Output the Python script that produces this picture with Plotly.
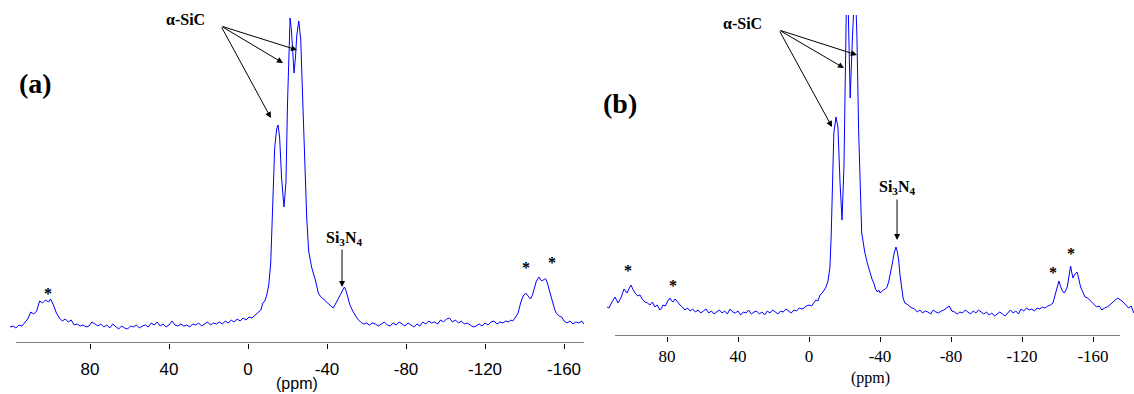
import plotly.graph_objects as go

# ---------------- Panel (a) spectrum ----------------
ppm_a = [120.5, 119, 117.5, 116, 114.5, 113, 111.5, 110, 108.5, 107, 105.5, 104, 102.5, 101, 100,
         98.5, 97, 95.5, 94, 92.5, 91, 89.5, 88, 86.5, 85, 83.5, 82, 80.5, 79, 77.5, 76, 74.5, 73,
         71.5, 70, 68.5, 67, 65.5, 64, 62.5, 61, 59.5, 58, 56.5, 55, 53.5, 52, 50.5, 49, 47.5, 46,
         44.5, 43, 41.5, 40, 38.5, 37, 35.5, 34, 32.5, 31, 29.5, 28, 26.5, 25, 23.5, 22, 20.5, 19,
         17.5, 16, 14.5, 13, 11.5, 10, 8.5, 7, 5.5, 4, 2.5, 1, -0.5, -2, -3.5, -5, -6.5, -7.5, -8.5,
         -9.5, -10.5, -11.5, -12.5, -13.5, -14.5, -15.2, -16, -17, -18.2, -19.2, -20, -20.7, -21.3,
         -22, -22.7, -23.3, -24, -24.7, -25.7, -26.7, -27.7, -28.7, -29.7, -30.7, -31.5, -32.2, -33,
         -34, -35, -35.6, -36.5, -37.5, -38.5, -39.5, -40.5, -41.5, -42.5, -43.2, -44, -45, -46, -47,
         -47.8, -48.8, -49.5, -50.3, -51.6, -53, -54.2, -55.5, -57, -58.5, -60, -61.5, -63, -64.5,
         -66, -67.5, -69, -70.5, -72, -73.5, -75, -76.5, -78, -79.5, -81, -82.5, -84, -85.5, -87,
         -88.5, -90, -91.5, -93, -94.5, -96, -97.5, -99, -100.5, -102, -103.5, -105, -106.5, -108,
         -109.5, -111, -112.5, -114, -115.5, -117, -118.5, -120, -121.5, -123, -124.5, -126, -127.5,
         -129, -130.5, -132, -133, -134, -135.5, -136.7, -138, -139.3, -140.6, -141.8, -143, -144,
         -145, -146, -147.3, -148.2, -149, -150, -150.7, -151.6, -152.5, -153.4, -154.3, -155.2,
         -156, -157.5, -158.8, -160, -161.5, -163, -164.5, -166, -167.5, -169, -170]
int_a = [16, 17, 15, 18, 17, 20, 24, 31, 29, 32, 42, 40, 43, 41, 44,
         38, 30, 25, 22, 24, 21, 23, 18, 19, 17, 18, 16, 17, 21, 19, 17, 19, 16,
         18, 15, 19, 16, 14, 17, 15, 14, 17, 16, 18, 15, 17, 18, 16, 20, 18, 21,
         17, 19, 16, 18, 22, 18, 17, 19, 17, 18, 16, 19, 18, 20, 17, 19, 21, 18,
         20, 19, 21, 19, 22, 20, 23, 21, 24, 22, 25, 23, 26, 25, 28, 30, 33, 40, 42,
         48, 58, 80, 140, 195, 214, 218, 206, 165, 136, 160, 240, 300, 325,
         312, 288, 270, 285, 308, 322, 303, 243, 176, 126, 92, 82, 76, 70,
         64, 55, 50, 47, 45, 43, 41, 40, 38, 36, 35, 38, 41, 44, 48,
         52, 56, 53, 48, 38, 32, 28, 24, 21, 19, 20, 18, 20, 19,
         17, 19, 21, 18, 17, 20, 18, 21, 19, 17, 20, 18, 16, 19, 17,
         21, 19, 22, 20, 21, 19, 23, 21, 24, 25, 21, 23, 20, 22,
         19, 20, 18, 16, 17, 19, 17, 20, 18, 21, 22, 19, 21,
         20, 22, 21, 23, 22, 26, 30, 40, 47, 50, 47, 44, 48,
         56, 62, 66, 63, 62, 64, 64, 60, 53, 46, 40, 34,
         30, 27, 26, 22, 20, 22, 19, 21, 20, 22, 19]

# ---------------- Panel (b) spectrum ----------------
ppm_b = [113.8, 112.7, 111, 109.3, 107.6, 106, 104.2, 103.3, 102.5, 101.5, 100.3, 99, 98, 96.5,
         95.2, 94, 92.4, 91, 89.6, 88.2, 86.8, 85.5, 84, 83, 82.3, 81, 80, 79.2, 78.3, 77.4, 76.6,
         75.5, 74.9, 73.8, 72.7, 71.3, 69.9, 68.5, 67, 65.5, 64, 62.5, 61, 59.5, 58, 56.5, 55, 53.5,
         52, 50.5, 49, 47.5, 46, 44.5, 43, 41.5, 40, 38.5, 37, 35.5, 34, 32.5, 31, 29.5, 28, 26.5,
         25, 23.5, 22, 20.5, 19, 17.5, 16, 14.5, 13, 11.5, 10, 8.5, 7, 5.5, 4, 2.8, 1.5, 0, -1.5,
         -3, -4, -5, -6.2, -7.5, -8.5, -9.6, -10.7, -11.8, -12.5, -13, -14, -15.2, -16.3, -17.5,
         -18.6, -19.7, -20.5, -21.3, -22.2, -23.2, -24.5, -26, -27, -28, -29.7, -31.5, -33, -34.4,
         -35.5, -36.5, -37.5, -38.5, -39.3, -40, -41, -42, -43, -44, -45, -46, -47, -48, -49, -49.8,
         -50.5, -51.2, -52, -53, -54, -55, -56, -57, -58, -59.5, -61, -62.5, -64, -65.5, -67, -68.5,
         -70, -71.5, -73, -74.5, -76, -77.5, -79, -80.5, -82, -83.5, -85, -86.5, -88, -89.5, -91,
         -92.5, -94, -95.5, -97, -98.5, -100, -101.5, -103, -104.5, -106, -107.5, -109, -110.5,
         -112, -113.5, -115, -116.5, -118, -119.5, -121, -122.5, -124, -125.5, -127, -128.5, -130,
         -131.5, -133, -134.5, -136, -137.5, -138.5, -139.3, -140.2, -140.8, -141.7, -142.5, -143.7,
         -144.5, -145.5, -146.4, -147.4, -148, -148.7, -149.8, -151, -152, -153, -154, -155.5, -157,
         -158, -159, -160, -161, -162, -163.5, -165, -166.5, -168, -169.5, -171, -172.5, -174,
         -175.5, -177, -178.5, -180, -181.5, -183]
int_b = [29, 28, 34, 39, 33, 38, 47, 45, 43, 47, 51, 46, 43, 40,
         41, 37, 34, 33, 31, 34, 29, 31, 26, 28, 31, 30, 34, 36, 38, 35, 34,
         37, 36, 33, 31, 29, 26, 28, 25, 27, 24, 26, 23, 25, 27, 23, 25, 22,
         24, 26, 23, 25, 22, 27, 24, 23, 25, 21, 24, 23, 26, 22, 24, 25, 22, 24,
         21, 25, 23, 26, 24, 22, 25, 24, 27, 25, 23, 26, 25, 28, 27, 28, 30, 31, 30,
         34, 36, 35, 41, 43, 46, 49, 55, 69, 100, 136, 203, 219, 209, 153,
         116, 169, 300, 360, 320, 238, 300, 355, 300, 203, 103, 83, 72, 63,
         57, 53, 47, 44, 46, 43, 45, 46, 47, 49, 55, 63, 73, 83, 89, 84,
         76, 62, 49, 38, 33, 32, 31, 29, 28, 27, 24, 26, 23, 25, 24, 22,
         26, 24, 23, 25, 26, 28, 30, 25, 24, 22, 24, 23, 26, 24, 22,
         25, 23, 26, 24, 22, 24, 21, 23, 20, 22, 24, 22, 20,
         23, 26, 23, 25, 22, 27, 25, 28, 26, 27, 25, 28, 27,
         29, 28, 30, 31, 33, 40, 46, 52, 55, 50, 46, 43,
         45, 49, 60, 70, 64, 58, 62, 64, 57, 49, 45, 39, 38,
         36, 34, 33, 31, 29, 30, 26, 28, 29, 31, 34, 36, 38,
         36, 34, 31, 28, 30, 23]

tick_vals = [80, 40, 0, -40, -80, -120, -160]
tick_text = ["80", "40", "0", "-40", "-80", "-120", "-160"]

# annotation anchor positions (ppm, intensity)
sic_label_a = (31.9, 323)
sic_tail_a = (13.7, 317)
sic_tips_a = [(-11.6, 225), (-17.7, 280), (-24.8, 293)]
si3n4_label_a = (-48.6, 105)
si3n4_arrow_a = (-47.6, 95, 56)
stars_a = [(101.3, 50), (-140.8, 76), (-153.9, 81)]

sic_label_b = (37.7, 313)
sic_tail_b = (16.9, 306)
sic_tips_b = [(-13.0, 209), (-19.7, 268), (-27.0, 281)]
si3n4_label_b = (-50.1, 149)
si3n4_arrow_b = (-49.6, 138, 96)
stars_b = [(102, 66), (76.6, 51), (-137.5, 64), (-147.6, 83)]

W, H = 1134, 394
BLUE = "#0000FF"
SERIF = "Liberation Serif, Times New Roman, serif"
SANS = "Liberation Sans, Arial, sans-serif"

fig = go.Figure()
fig.add_trace(go.Scatter(x=ppm_a, y=int_a, mode="lines", line=dict(color=BLUE, width=1),
                         xaxis="x", yaxis="y", showlegend=False, hoverinfo="skip"))
fig.add_trace(go.Scatter(x=ppm_b, y=int_b, mode="lines", line=dict(color=BLUE, width=1),
                         xaxis="x2", yaxis="y2", showlegend=False, hoverinfo="skip"))

def xaxis_cfg(domain, rng, font, standoff):
    return dict(domain=domain, range=rng, showgrid=False, zeroline=False, showline=False,
                ticks="outside", ticklen=5, tickcolor="black", tickwidth=1, ticklabelstandoff=standoff,
                tickvals=tick_vals, ticktext=tick_text, tickfont=dict(family=font, size=17, color="black"))

def yaxis_cfg(domain, rng, anchor):
    return dict(domain=domain, range=rng, visible=False, anchor=anchor, fixedrange=True)

fig.update_layout(
    width=W, height=H, margin=dict(l=0, r=0, t=0, b=0),
    paper_bgcolor="white", plot_bgcolor="white",
    xaxis=dict(**xaxis_cfg([10 / W, 584 / W], [120.5, -170.1], SANS, 6), anchor="y"),
    yaxis=yaxis_cfg([1 - 343 / H, 1 - 10 / H], [0, 333], "x"),
    xaxis2=dict(**xaxis_cfg([607 / W, 1.0], [113.8, -183.1], SERIF, 0), anchor="y2"),
    yaxis2=yaxis_cfg([1 - 336 / H, 1 - 15 / H], [0, 321], "x2"),
)

# axis lines (only over the labelled span)
fig.add_shape(type="line", xref="x", yref="y", x0=117.5, x1=-170.1, y0=0, y1=0,
              line=dict(color="black", width=1))
fig.add_shape(type="line", xref="x2", yref="y2", x0=109.3, x1=-175.2, y0=0, y1=0,
              line=dict(color="black", width=1))

ann = []
def add_panel(xr, yr, sic_label, sic_tail, sic_tips, si_label, si_arrow, stars, tag, tag_pos, xtitle_pos, xfont):
    ann.append(dict(x=sic_label[0], y=sic_label[1], xref=xr, yref=yr, text="<b>α-SiC</b>", showarrow=False,
                    xanchor="center", yanchor="middle", font=dict(family=SERIF, size=16, color="black")))
    for tx, ty in sic_tips:
        ann.append(dict(x=tx, y=ty, xref=xr, yref=yr, ax=sic_tail[0], ay=sic_tail[1], axref=xr, ayref=yr,
                        text="", showarrow=True, arrowhead=2, arrowsize=1.2, arrowwidth=1, arrowcolor="black"))
    ann.append(dict(x=si_label[0], y=si_label[1], xref=xr, yref=yr, text="<b>Si<sub>3</sub>N<sub>4</sub></b>",
                    showarrow=False, xanchor="center", yanchor="middle",
                    font=dict(family=SERIF, size=16, color="black")))
    ann.append(dict(x=si_arrow[0], y=si_arrow[2], xref=xr, yref=yr, ax=si_arrow[0], ay=si_arrow[1], axref=xr,
                    ayref=yr, text="", showarrow=True, arrowhead=2, arrowsize=1.2, arrowwidth=1, arrowcolor="black"))
    for sx, sy in stars:
        ann.append(dict(x=sx, y=sy, xref=xr, yref=yr, text="<b>*</b>", showarrow=False,
                        xanchor="center", yanchor="middle", font=dict(family=SERIF, size=16, color="black")))
    ann.append(dict(x=tag_pos[0], y=tag_pos[1], xref="paper", yref="paper", text="<b>" + tag + "</b>",
                    showarrow=False, xanchor="center", yanchor="middle",
                    font=dict(family=SERIF, size=28, color="black")))
    ann.append(dict(x=xtitle_pos[0], y=xtitle_pos[1], xref="paper", yref="paper", text="(ppm)",
                    showarrow=False, xanchor="center", yanchor="middle",
                    font=dict(family=xfont, size=16, color="black")))

add_panel("x", "y", sic_label_a, sic_tail_a, sic_tips_a, si3n4_label_a, si3n4_arrow_a, stars_a, "(a)",
          (35 / W, 1 - 84 / H), (297 / W, 1 - 383 / H), SANS)
add_panel("x2", "y2", sic_label_b, sic_tail_b, sic_tips_b, si3n4_label_b, si3n4_arrow_b, stars_b, "(b)",
          (620 / W, 1 - 103 / H), (870 / W, 1 - 378 / H), SERIF)
fig.update_layout(annotations=ann)

fig.write_html("out.html", config={"displayModeBar": False},
               post_script="document.body.style.margin='0';document.body.style.overflow='hidden';")
